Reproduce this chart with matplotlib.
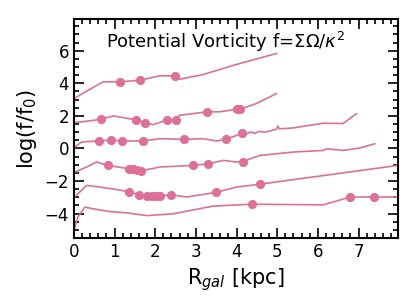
import numpy as np
import matplotlib
matplotlib.use('Agg')
import matplotlib.pyplot as plt
from matplotlib.ticker import MultipleLocator

col = '#dc7097'

# curve lines, top to bottom
x1 = [0.0, 0.3, 0.72, 1.13, 1.62, 2.11, 2.48, 2.60, 3.18, 4.0, 4.98]
y1 = [3.06, 3.5, 4.09, 4.09, 4.19, 4.46, 4.46, 4.25, 4.54, 5.16, 5.83]
mx1 = [1.13, 1.62, 2.48]
my1 = [4.09, 4.19, 4.42]

x2 = [0.0, 0.31, 0.66, 0.97, 1.54, 1.74, 1.95, 2.29, 2.51, 2.60, 3.28, 3.59, 4.0, 4.09, 4.49, 4.98]
y2 = [1.59, 1.67, 1.79, 2.0, 1.75, 1.59, 1.46, 1.75, 1.75, 2.04, 2.25, 2.25, 2.41, 2.41, 2.76, 3.37]
mx2 = [0.66, 1.54, 1.74, 2.29, 2.51, 3.28, 4.0, 4.09]
my2 = [1.79, 1.75, 1.59, 1.75, 1.75, 2.25, 2.41, 2.41]

x3 = [0.02, 0.19, 0.61, 0.91, 1.19, 1.70, 2.11, 2.70, 3.18, 3.51, 3.73, 4.0, 4.14, 4.25, 4.35, 4.45,
      4.55, 4.7, 4.98, 5.02, 5.05, 5.39, 6.13, 6.62, 6.95]
y3 = [0.09, 0.40, 0.46, 0.52, 0.46, 0.46, 0.60, 0.56, 0.60, 0.46, 0.56, 0.80, 0.95, 0.9, 1.02, 0.92,
      1.05, 1.0, 1.18, 1.38, 1.2, 1.26, 1.55, 1.53, 2.14]
mx3 = [0.61, 0.91, 1.19, 1.70, 2.70, 3.73, 4.14]
my3 = [0.46, 0.52, 0.46, 0.46, 0.56, 0.56, 0.95]

x4 = [0.02, 0.31, 0.56, 0.83, 1.35, 1.46, 1.56, 1.66, 2.11, 2.93, 3.31, 3.67, 4.0, 4.16, 4.57,
      5.39, 6.13, 6.21, 6.62, 7.03, 7.40]
y4 = [-1.45, -1.14, -0.83, -1.04, -1.24, -1.29, -1.32, -1.37, -1.14, -1.04, -0.94, -0.73, -0.83,
      -0.80, -0.43, -0.22, -0.12, -0.02, -0.12, 0.03, 0.29]
mx4 = [0.83, 1.35, 1.46, 1.56, 1.66, 2.93, 3.31, 4.16]
my4 = [-1.04, -1.24, -1.29, -1.32, -1.37, -1.04, -0.94, -0.80]

x5 = [0.02, 0.31, 0.64, 1.05, 1.35, 1.60, 1.80, 2.11, 2.38, 2.77, 3.49, 4.0, 4.58, 7.97]
y5 = [-2.98, -2.27, -2.37, -2.52, -2.65, -2.84, -2.92, -2.92, -2.84, -2.98, -2.70, -2.37, -2.19, -1.04]
mx5 = [1.35, 1.60, 1.80, 1.91, 2.01, 2.11, 2.38, 3.49, 4.58]
my5 = [-2.65, -2.84, -2.92, -2.92, -2.92, -2.92, -2.84, -2.70, -2.19]

x6 = [0.02, 0.10, 0.27, 0.47, 0.88, 1.29, 1.79, 2.44, 3.42, 4.37, 6.13, 6.80, 7.37, 7.97]
y6 = [-4.9, -4.2, -3.6, -3.7, -3.87, -3.95, -4.12, -4.01, -3.54, -3.42, -3.46, -2.98, -2.98, -2.98]
mx6 = [4.37, 6.80, 7.37]
my6 = [-3.42, -2.98, -2.98]

curves = [(x1, y1, mx1, my1), (x2, y2, mx2, my2), (x3, y3, mx3, my3),
          (x4, y4, mx4, my4), (x5, y5, mx5, my5), (x6, y6, mx6, my6)]

fig = plt.figure(figsize=(4.15, 3.06), dpi=100)
ax = fig.add_axes([0.178, 0.222, 0.781, 0.716])

for lx, ly, px, py in curves:
    ax.plot(lx, ly, color=col, linewidth=1.2)
    ax.plot(px, py, 'o', color=col, markersize=6.6, markeredgewidth=0)

ax.text(0.8, 6.55, r'Potential Vorticity f=$\Sigma\Omega/\kappa^2$', fontsize=13, va='center')

ax.set_xlim(0, 7.97)
ax.set_ylim(-5.5, 7.95)
ax.xaxis.set_major_locator(MultipleLocator(1))
ax.xaxis.set_minor_locator(MultipleLocator(0.2))
ax.yaxis.set_major_locator(MultipleLocator(2))
ax.yaxis.set_minor_locator(MultipleLocator(0.5))
ax.tick_params(which='both', direction='in', top=True, right=True, labelsize=12, width=1.2)
ax.tick_params(which='major', length=7)
ax.tick_params(which='minor', length=3.5)
for s in ax.spines.values():
    s.set_linewidth(1.5)

ax.set_xlabel(r'R$_{gal}$ [kpc]', fontsize=15)
ax.set_ylabel(r'log(f/f$_0$)', fontsize=15)

fig.savefig('out.png', dpi=100)
